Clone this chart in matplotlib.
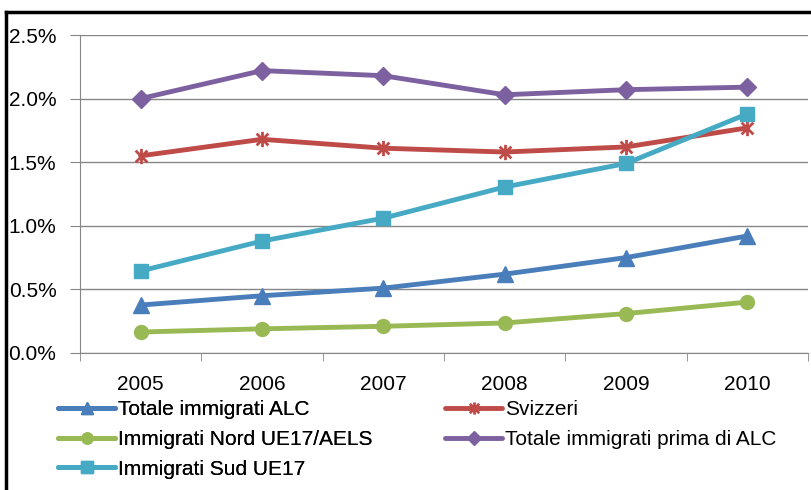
import matplotlib
matplotlib.use("Agg")
import matplotlib.pyplot as plt
from matplotlib.lines import Line2D
from matplotlib.path import Path
import numpy as np

years = ["2005", "2006", "2007", "2008", "2009", "2010"]
totale_alc = [0.377, 0.45, 0.51, 0.62, 0.75, 0.92]
svizzeri = [1.55, 1.68, 1.61, 1.58, 1.62, 1.77]
nord_ue17 = [0.165, 0.19, 0.21, 0.236, 0.31, 0.40]
prima_alc = [2.00, 2.22, 2.18, 2.03, 2.07, 2.09]
sud_ue17 = [0.645, 0.88, 1.06, 1.305, 1.49, 1.88]
yticks = [0.0, 0.5, 1.0, 1.5, 2.0, 2.5]

plt.rcParams['font.family'] = ['Liberation Sans', 'DejaVu Sans']
FS = 15

# asterisk marker: X plus vertical bar
star = Path([(-1, -1), (1, 1), (-1, 1), (1, -1), (0, -1.3), (0, 1.3)],
            [Path.MOVETO, Path.LINETO, Path.MOVETO, Path.LINETO, Path.MOVETO, Path.LINETO])

fig = plt.figure(figsize=(8.12, 4.9), dpi=100)
ax = fig.add_axes([80/812, 1-353/490, 728/812, 318/490])

x = np.arange(len(years))
series = [
    ("Totale immigrati ALC", totale_alc, "#4a7ebb", "^", 11),
    ("Svizzeri", svizzeri, "#be4b48", star, 11),
    ("Immigrati Nord UE17/AELS", nord_ue17, "#98b954", "o", 10),
    ("Totale immigrati prima di ALC", prima_alc, "#7d60a0", "D", 9.5),
    ("Immigrati Sud UE17", sud_ue17, "#46aac5", "s", 10.5),
]
handles = {}
for name, vals, col, mk, ms in series:
    if mk is star:
        l, = ax.plot(x, vals, color=col, lw=3.5, marker=mk, ms=ms, mew=2.0,
                     mec=col, label=name, solid_capstyle="round")
    else:
        l, = ax.plot(x, vals, color=col, lw=3.5, marker=mk, ms=ms, mec=col, mfc=col,
                     label=name, solid_capstyle="round")
    handles[name] = l

ax.set_xlim(-0.5, 5.5)
ax.set_ylim(0, 2.5)
ax.set_yticks(yticks)
ax.set_yticklabels([f"{v:.1f}%" for v in yticks])
ax.set_xticks(x)
ax.set_xticklabels(years)
ax.set_xticks(np.arange(-0.5, 6.0, 1.0), minor=True)
ax.tick_params(axis="x", which="major", length=0, pad=16, labelsize=FS, colors="black")
ax.tick_params(axis="x", which="minor", length=6, color="#868686", direction="out")
ax.tick_params(axis="y", length=7, color="#868686", labelsize=FS, pad=10)
ax.grid(axis="y", color="#868686", lw=1)
ax.set_axisbelow(True)
for s in ["top", "right"]:
    ax.spines[s].set_visible(False)
for s in ["left", "bottom"]:
    ax.spines[s].set_color("#868686")

col1 = ["Totale immigrati ALC", "Immigrati Nord UE17/AELS", "Immigrati Sud UE17"]
col2 = ["Svizzeri", "Totale immigrati prima di ALC"]
common = dict(loc="upper left", frameon=False, fontsize=FS, handlelength=2.75,
              handletextpad=0.12, labelspacing=0.52, borderaxespad=0, borderpad=0,
              markerscale=0.8)
leg1 = fig.legend([handles[n] for n in col1], col1,
                  bbox_to_anchor=(58/812, 1-400/490), **common)
fig.add_artist(leg1)
leg2 = fig.legend([handles[n] for n in col2], col2,
                  bbox_to_anchor=(445/812, 1-400/490), **common)

# frame lines (top and left) as in the reference crop
fig.add_artist(Line2D([6/812, 1], [1-12/490, 1-12/490], color="black", lw=2.5,
                      transform=fig.transFigure))
fig.add_artist(Line2D([6/812, 6/812], [0, 1-12/490], color="black", lw=2.5,
                      transform=fig.transFigure))

fig.savefig("out.png", dpi=100)
